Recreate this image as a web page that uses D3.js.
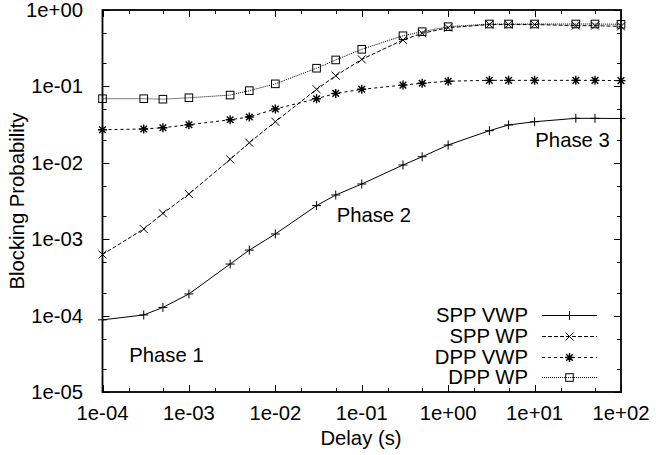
<!DOCTYPE html>
<html><head><meta charset="utf-8">
<script src="https://cdn.jsdelivr.net/npm/d3@7/dist/d3.min.js"></script>
<style>body{margin:0;background:#fff}svg{display:block}text{font-family:"Liberation Sans",Arial,sans-serif;fill:#000}</style>
</head><body><svg id="c" width="656" height="455"></svg>
<script>
const delays = [1e-4,3e-4,5e-4,1e-3,3e-3,5e-3,1e-2,3e-2,5e-2,0.1,0.3,0.5,1,3,5,10,30,50,100];
const sppVWP = [8.8e-5,1.02e-4,1.28e-4,1.92e-4,4.73e-4,7.2e-4,1.17e-3,2.75e-3,3.79e-3,5.28e-3,9.36e-3,0.012,0.0171,0.0263,0.0313,0.0345,0.0382,0.0382,0.038];
const sppWP = [6.3e-4,1.36e-3,2.18e-3,3.9e-3,0.0111,0.0183,0.0345,0.0916,0.138,0.226,0.405,0.495,0.586,0.645,0.645,0.645,0.624,0.624,0.61];
const dppVWP = [0.0271,0.0277,0.0288,0.0315,0.0366,0.0398,0.0506,0.069,0.081,0.0916,0.104,0.11,0.117,0.12,0.12,0.12,0.12,0.12,0.119];
const dppWP = [0.069,0.069,0.068,0.071,0.077,0.088,0.108,0.173,0.222,0.306,0.46,0.52,0.605,0.656,0.656,0.656,0.656,0.656,0.65];
const seriesNames = ["SPP VWP","SPP WP","DPP VWP","DPP WP"];
const xTicks = [1e-4,1e-3,1e-2,1e-1,1,10,100];
const xTickLabels = ["1e-04","1e-03","1e-02","1e-01","1e+00","1e+01","1e+02"];
const yTicks = [1e-5,1e-4,1e-3,1e-2,1e-1,1];
const yTickLabels = ["1e-05","1e-04","1e-03","1e-02","1e-01","1e+00"];
const phaseLabels = [{t:"Phase 1",x:5.5e-4,y:2.47e-5},{t:"Phase 2",x:0.138,y:1.68e-3},{t:"Phase 3",x:27.5,y:0.0161}];

const svg = d3.select("#c");
const L=102.5,R=621,T=10,B=392;
const x = d3.scaleLog().domain([1e-4,100]).range([L,R]);
const y = d3.scaleLog().domain([1e-5,1]).range([B,T]);
const FS = 20.3;

const minorX=[], minorY=[];
for(let e=-4;e<2;e++){minorX.push(2*10**e,5*10**e);}
for(let e=-5;e<0;e++){minorY.push(2*10**e,5*10**e);}
const g = svg.append("g").attr("stroke","#000").attr("stroke-width",1);
minorX.forEach(v=>{const px=Math.round(x(v))+0.5;
  g.append("line").attr("x1",px).attr("x2",px).attr("y1",B).attr("y2",B-4);
  g.append("line").attr("x1",px).attr("x2",px).attr("y1",T).attr("y2",T+4);});
xTicks.forEach(v=>{const px=Math.round(x(v))+0.5;
  g.append("line").attr("x1",px).attr("x2",px).attr("y1",B).attr("y2",B-7);
  g.append("line").attr("x1",px).attr("x2",px).attr("y1",T).attr("y2",T+7);});
minorY.forEach(v=>{const py=Math.round(y(v))+0.5;
  g.append("line").attr("x1",L).attr("x2",L+4).attr("y1",py).attr("y2",py);
  g.append("line").attr("x1",R).attr("x2",R-4).attr("y1",py).attr("y2",py);});
yTicks.forEach(v=>{const py=Math.round(y(v))+0.5;
  g.append("line").attr("x1",L).attr("x2",L+7).attr("y1",py).attr("y2",py);
  g.append("line").attr("x1",R).attr("x2",R-7).attr("y1",py).attr("y2",py);});

xTicks.forEach((v,i)=>svg.append("text").attr("x",x(v)).attr("y",420).attr("text-anchor","middle").attr("font-size",FS).text(xTickLabels[i]));
yTicks.forEach((v,i)=>svg.append("text").attr("x",83).attr("y",y(v)+7).attr("text-anchor","end").attr("font-size",FS).text(yTickLabels[i]));
svg.append("text").attr("x",361).attr("y",445).attr("text-anchor","middle").attr("font-size",FS).text("Delay (s)");
svg.append("text").attr("transform","translate(24,201) rotate(-90)").attr("text-anchor","middle").attr("font-size",FS).text("Blocking Probability");

phaseLabels.forEach(p=>svg.append("text").attr("x",x(p.x)).attr("y",y(p.y)).attr("text-anchor","middle").attr("font-size",FS).text(p.t));

function marker(sel,type,cx,cy){
  const m=sel.append("g").attr("transform",`translate(${cx},${cy})`).attr("stroke","#000").attr("fill","none").attr("stroke-width",1);
  if(type===0){m.append("path").attr("d","M-4.5,0H4.5M0,-4.5V4.5");}
  else if(type===1){m.append("path").attr("d","M-4,-4L4,4M-4,4L4,-4");}
  else if(type===2){m.append("path").attr("d","M-4.5,0H4.5M0,-4.5V4.5M-3.3,-3.3L3.3,3.3M-3.3,3.3L3.3,-3.3").attr("stroke-width",1.4);}
  else {m.append("rect").attr("x",-3.8).attr("y",-3.8).attr("width",7.6).attr("height",7.6);}
}
const dashes=[null,"4,2","3,3","1,1"];
const data=[sppVWP,sppWP,dppVWP,dppWP];
const line=d3.line().x(d=>x(d[0])).y(d=>y(d[1]));
svg.append("clipPath").attr("id","pc").append("rect").attr("x",L).attr("y",T).attr("width",R-L).attr("height",B-T);
data.forEach((s,k)=>{
  const pts=delays.map((d,i)=>[d,s[i]]);
  svg.append("path").attr("d",line(pts)).attr("fill","none").attr("stroke","#000").attr("stroke-width",1)
    .attr("stroke-dasharray",dashes[k]).attr("clip-path","url(#pc)");
  pts.forEach(p=>marker(svg,k,x(p[0]),y(p[1])));
});

const legY=[315,336,357,377];
seriesNames.forEach((n,k)=>{
  svg.append("text").attr("x",528).attr("y",legY[k]+7).attr("text-anchor","end").attr("font-size",FS).text(n);
  svg.append("line").attr("x1",542).attr("x2",597).attr("y1",legY[k]+0.5).attr("y2",legY[k]+0.5).attr("stroke","#000").attr("stroke-width",1).attr("stroke-dasharray",dashes[k]);
  marker(svg,k,569.5,legY[k]+0.5);
});

svg.append("rect").attr("x",L).attr("y",T).attr("width",R-L).attr("height",B-T).attr("fill","none").attr("stroke","#000").attr("stroke-width",1.8);
</script></body></html>
